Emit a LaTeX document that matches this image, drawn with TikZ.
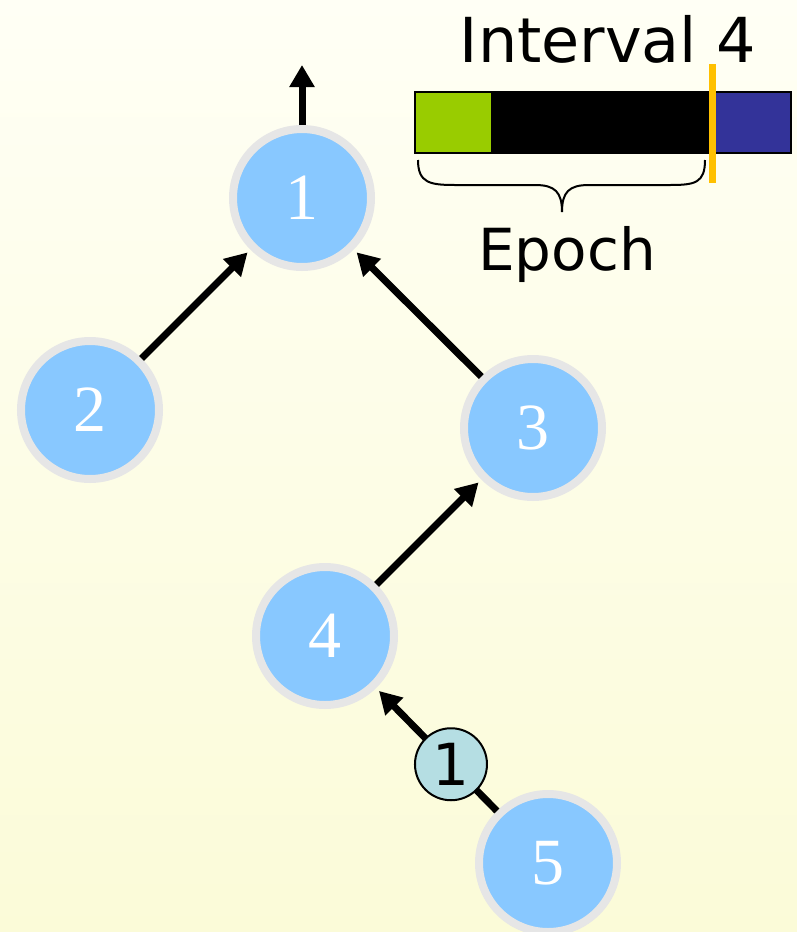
\documentclass[tikz,border=0pt]{standalone}
\usepackage{fontspec}
\setmainfont{Liberation Serif}
\newfontfamily\handfont{DejaVu Sans}
\usetikzlibrary{arrows.meta}
\definecolor{nodeblue}{HTML}{88C8FF}
\definecolor{ringgray}{HTML}{E6E6E6}
\definecolor{tokencyan}{HTML}{B5DEE3}
\definecolor{slotgreen}{HTML}{99CC00}
\definecolor{slotblue}{HTML}{333399}
\definecolor{markorange}{HTML}{FFC000}
\definecolor{paperhi}{HTML}{FFFFF5}
\definecolor{paperlo}{HTML}{FBFBD8}

\begin{document}
\begin{tikzpicture}[x=1pt,y=-1pt,
    vertex/.style={circle, fill=nodeblue, draw=ringgray, line width=8pt,
      minimum size=138pt, inner sep=0pt, text=white,
      font=\fontsize{66}{66}\selectfont},
    link/.style={line width=7pt, -{Triangle[length=22pt,width=24pt]},
      shorten >=4pt},
    token/.style={circle, fill=tokencyan, draw=black, line width=2pt,
      minimum size=72pt, inner sep=0pt, font=\handfont\fontsize{58}{58}\selectfont},
    label/.style={anchor=base, font=\handfont\fontsize{62}{62}\selectfont}]
    \pgfmathsetmacro{\barT}{92}
    \pgfmathsetmacro{\barB}{153}

    % Background
    \shade[top color=paperhi, bottom color=paperlo] (0,0) rectangle (797,932);
    \useasboundingbox (0,0) rectangle (797,932);

    % Draw the tree
    \node[vertex] (n1) at (302,198) {1};
    \node[vertex] (n2) at (90,410) {2};
    \node[vertex] (n3) at (533,428) {3};
    \node[vertex] (n4) at (325,636) {4};
    \node[vertex] (n5) at (548,863) {5};
    \coordinate (sink) at (302,65);

    \draw[link, shorten >=0pt] (n1) -- (sink);
    \draw[link] (n2) -- (n1);
    \draw[link] (n3) -- (n1);
    \draw[link] (n4) -- (n3);
    \draw[link] (n5) -- (n4) node[token, pos=0.38] (tok) {1};

    % Draw the interval bar
    \fill[slotgreen] (415,\barT) rectangle (491,\barB);
    \fill[black] (491,\barT) rectangle (712,\barB);
    \fill[slotblue] (712,\barT) rectangle (791,\barB);
    \draw[line width=2pt] (415,\barT) rectangle (791,\barB);
    \draw[markorange, line width=7pt] (712,64) -- (712,183);
    \node[label] (ivl) at (608,62) {Interval 4};

    % Epoch brace
    \draw[line width=2pt] (418,160) .. controls (418,183) and (430,185) .. (455,185)
          -- (535,185) .. controls (555,185) and (562,192) .. (562,212)
          .. controls (562,192) and (569,185) .. (589,185)
          -- (670,185) .. controls (695,185) and (705,183) .. (705,160);
    \node[label, font=\handfont\fontsize{58}{58}\selectfont] (epoch) at (567,270) {Epoch};

\end{tikzpicture}
\end{document}
